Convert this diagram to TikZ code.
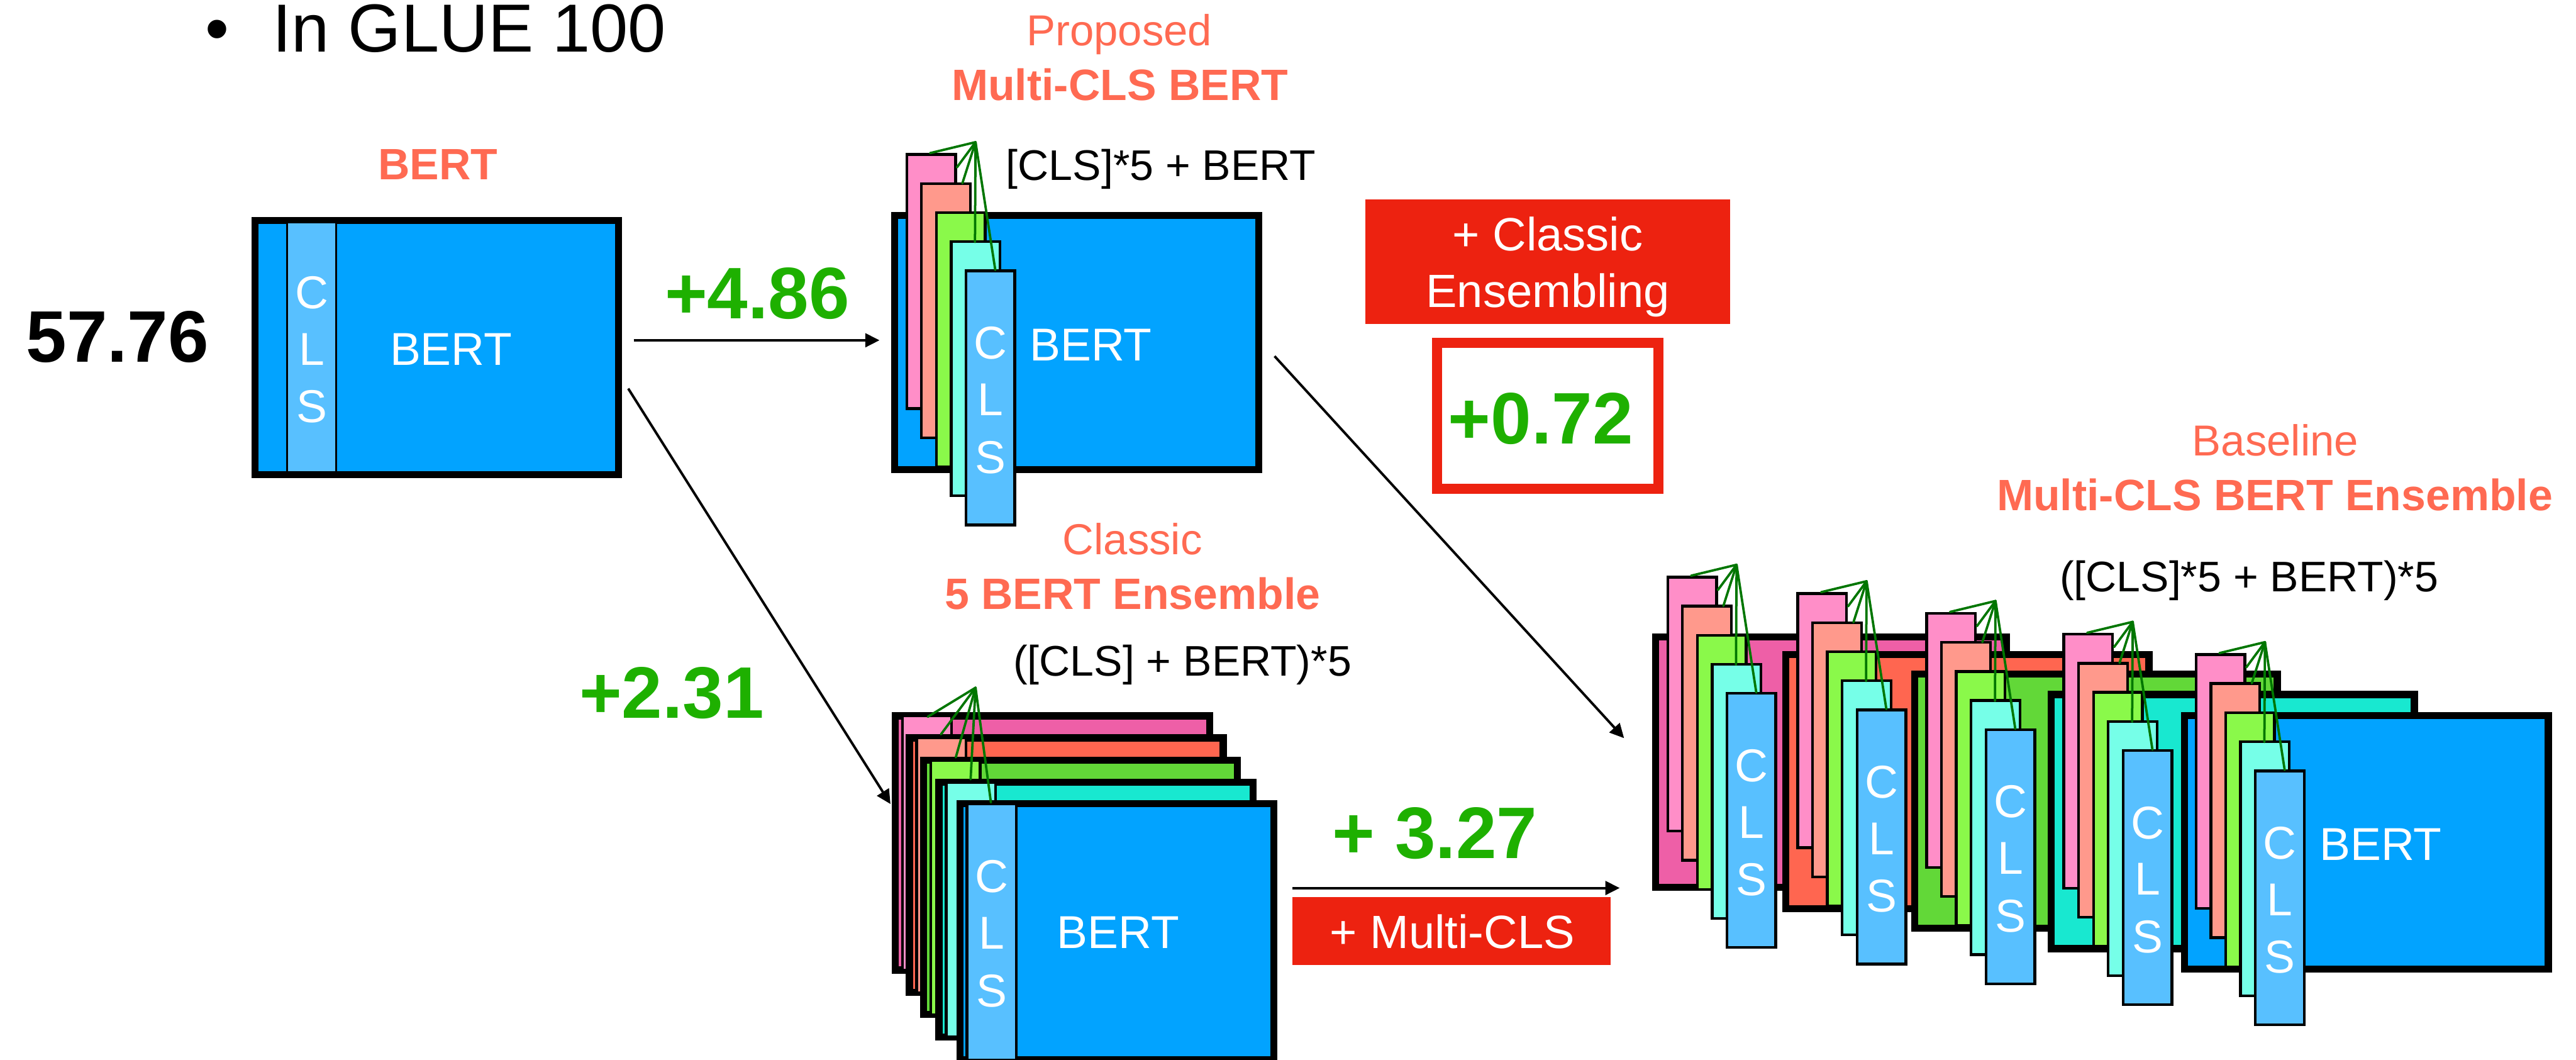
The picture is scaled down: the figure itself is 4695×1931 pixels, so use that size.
\documentclass[tikz,border=0pt]{standalone}
\usepackage{fontspec}
\setmainfont{Liberation Sans}
\usetikzlibrary{arrows.meta}

\definecolor{hdr}{RGB}{255,106,82}
\definecolor{gain}{RGB}{30,176,0}
\definecolor{redbox}{RGB}{237,34,16}
\definecolor{wire}{RGB}{0,118,0}
\definecolor{bertblue}{RGB}{2,163,255}
\definecolor{clsblue}{RGB}{88,192,255}
\definecolor{clspink}{RGB}{255,142,200}
\definecolor{clssalmon}{RGB}{255,153,140}
\definecolor{clsgreen}{RGB}{138,249,74}
\definecolor{clsaqua}{RGB}{118,255,232}
\definecolor{frpink}{RGB}{238,95,167}
\definecolor{frorange}{RGB}{255,102,80}
\definecolor{frgreen}{RGB}{98,216,56}
\definecolor{frturq}{RGB}{24,232,208}

\newcommand{\fs}[1]{\fontsize{#1pt}{#1pt}\selectfont}

\tikzset{
  lbl/.style={inner sep=0pt, anchor=base},
  gainlbl/.style={lbl, text=gain, font={\fs{133}\bfseries}},
  title/.style={lbl, text=hdr, font={\fs{79}}},
  titlebf/.style={lbl, text=hdr, font={\fs{80}\bfseries}},
  formula/.style={lbl, font={\fs{78}}},
  onred/.style={lbl, text=white, font={\fs{85}}},
  inbox/.style={lbl, text=white, font={\fs{84}}},
  conn/.style={line width=4.5pt, -{Triangle[length=26pt,width=25pt]}},
  wirel/.style={wire, line width=4.3pt, line cap=round},
}

% model frame: outer corner, width, height, fill colour (black border 13)
\newcommand{\frm}[5]{%
  \fill[black] ({#1},{#2}) rectangle ++({#3},{#4});
  \fill[#5] ({#1+13},{#2+13}) rectangle ({#1+#3-13},{#2+#4-13});}

% token bar: outer corner, width, height, fill colour, outline width
\newcommand{\tok}[6]{%
  \draw[line width=#6pt, fill=#5] ({#1+#6/2},{#2+#6/2}) rectangle ({#1+#3-#6/2},{#2+#4-#6/2});}

% stacked letters C / L / S: centre x, baseline of C, name prefix
\newcommand{\clsletters}[3]{%
  \node[inbox] (#3c) at ({#1},{#2}) {C};
  \node[inbox] (#3l) at ({#1},{#2+103}) {L};
  \node[inbox] (#3s) at ({#1},{#2+208}) {S};}

% five [CLS] tokens joined to one point: top-left of first token, name prefix
\newcommand{\mstack}[3]{%
  \foreach \k/\c in {0/clspink,1/clssalmon,2/clsgreen,3/clsaqua,4/clsblue}{
    \tok{#1+27*\k}{#2+53*\k}{94}{468}{\c}{5}}
  \coordinate (#3apex) at ({#1+128},{#2-20});
  \foreach \dx/\dy in {45/0,94/26,104/55,127/162,164/213}{
    \draw[wirel] (#3apex) -- ({#1+\dx},{#2+\dy});}
  \clsletters{#1+155}{#2+375}{#3}}

\begin{document}
\begin{tikzpicture}[x=1pt, y=-1pt]
\useasboundingbox (0,0) rectangle (4695,1931);
\fill[white] (0,0) rectangle (4695,1931);

% heading
\node[lbl, font={\fs{124}}, text height=50pt] (bul) at (396,94) {\textbullet};
\node[lbl, anchor=base west, font={\fs{124}}, text height=90pt] (head) at (497,94) {In GLUE 100};

% single BERT
\node[titlebf] (t1) at (798,327) {BERT};
\node[lbl, font={\fs{133}\bfseries}] (score) at (214,660) {57.76};
\frm{458}{395}{676}{476}{bertblue}
\tok{522}{404}{92}{458}{clsblue}{3}
\clsletters{568}{562}{b1}
\node[inbox] (b1bert) at (822,665) {BERT};

% proposed Multi-CLS BERT
\node[title] (t2a) at (2040,83) {Proposed};
\node[titlebf] (t2b) at (2041,183) {Multi-CLS BERT};
\node[formula] (f2) at (2116,328) {[CLS]*5 + BERT};
\frm{1624}{386}{677}{476}{bertblue}
\mstack{1650}{279}{m}
\node[inbox] (mbert) at (1988,657) {BERT};

% classic 5 BERT ensemble
\node[title] (t3a) at (2064,1010) {Classic};
\node[titlebf] (t3b) at (2064,1110) {5 BERT Ensemble};
\node[formula] (f3) at (2155,1232) {([CLS] + BERT)*5};
\frm{1625}{1298}{586}{476}{frpink}   \tok{1642}{1302}{95}{468}{clspink}{5}
\frm{1651}{1338}{585}{477}{frorange} \tok{1668}{1342}{95}{469}{clssalmon}{5}
\frm{1677}{1379}{585}{476}{frgreen}  \tok{1694}{1383}{95}{468}{clsgreen}{5}
\frm{1705}{1419}{585}{477}{frturq}   \tok{1722}{1423}{95}{469}{clsaqua}{5}
\frm{1743}{1458}{585}{480}{bertblue} \tok{1760}{1462}{95}{472}{clsblue}{5}
\clsletters{1807}{1626}{c5}
\node[inbox] (cbert) at (2038,1728) {BERT};
\coordinate (capex) at (1778,1253);
\foreach \ex/\ey in {1691/1306,1715/1338,1742/1380,1769/1420,1806/1462}{
  \draw[wirel] (capex) -- (\ex,\ey);}

% baseline Multi-CLS BERT ensemble
\node[title] (t4a) at (4147,831) {Baseline};
\node[titlebf] (t4b) at (4146,930) {Multi-CLS BERT Ensemble};
\node[formula] (f4) at (4099,1078) {([CLS]*5 + BERT)*5};
\frm{3011}{1154}{652}{469}{frpink}   \mstack{3037}{1049}{ea}
\frm{3248}{1186}{675}{476}{frorange} \mstack{3274}{1079}{eb}
\frm{3483}{1222}{674}{476}{frgreen}  \mstack{3509}{1115}{ec}
\frm{3732}{1259}{675}{476}{frturq}   \mstack{3759}{1153}{ed}
\frm{3975}{1297}{676}{475}{bertblue} \mstack{4000}{1190}{ee}
\node[inbox] (ebert) at (4339,1567) {BERT};

% gains and operations
\node[gainlbl] (g1) at (1380,581) {+4.86};
\node[gainlbl] (g2) at (1224,1308) {+2.31};
\node[gainlbl] (g3) at (2615,1564) {+ 3.27};
\fill[redbox] (2489,363) rectangle (3153,590);
\node[onred] (ce1) at (2821,457) {+ Classic};
\node[onred] (ce2) at (2821,560) {Ensembling};
\draw[redbox, line width=18pt] (2619,625) rectangle (3023,891);
\node[gainlbl] (g4) at (2808,809) {+0.72};
\fill[redbox] (2356,1635) rectangle (2936,1758);
\node[onred] (mc) at (2647,1728) {+ Multi-CLS};

% connectors
\coordinate (a1s) at (1155,620);  \coordinate (a1e) at (1603,620);
\coordinate (a2s) at (1145,708);  \coordinate (a2e) at (1623,1465);
\coordinate (a3s) at (2323,649);  \coordinate (a3e) at (2960,1345);
\coordinate (a4s) at (2356,1618); \coordinate (a4e) at (2952,1618);
\draw[conn] (a1s) -- (a1e);
\draw[conn] (a2s) -- (a2e);
\draw[conn] (a3s) -- (a3e);
\draw[conn] (a4s) -- (a4e);
\end{tikzpicture}
\end{document}
